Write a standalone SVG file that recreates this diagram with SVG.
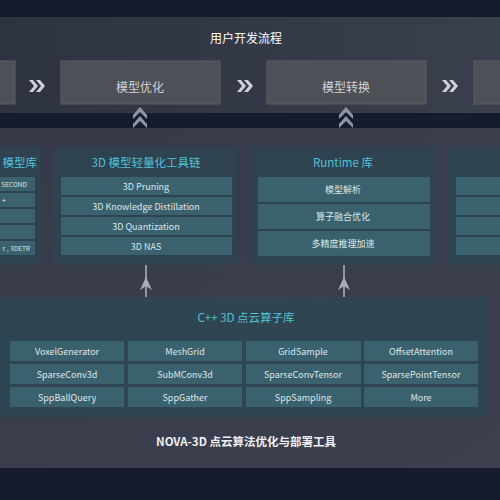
<svg xmlns="http://www.w3.org/2000/svg" width="500" height="500" viewBox="0 0 500 500">
<defs>
<linearGradient id="topg" x1="0" y1="0" x2="1" y2="0">
<stop offset="0" stop-color="#2e3342"/><stop offset="1" stop-color="#3a3f4e"/>
</linearGradient>
<linearGradient id="midg" x1="0" y1="0" x2="1" y2="1">
<stop offset="0" stop-color="#363a48"/><stop offset="1" stop-color="#3d414f"/>
</linearGradient>
<g id="chevR"><path d="M-8,-6 L-4,-6 L1,0 L-4,6 L-8,6 L-3,0 Z M-1,-6 L3,-6 L8,0 L3,6 L-1,6 L4,0 Z"/></g>
<g id="chevU"><path d="M-7,-2 L0,-10 L7,-2 L7,2 L0,-5 L-7,2 Z M-7,7 L0,-1 L7,7 L7,11 L0,4 L-7,11 Z"/></g>
<g id="arrU"><path d="M0,0 L0,33" fill="none"/><path d="M-6,25 L0,12 L6,25 L0,21 Z" stroke="none"/></g>
</defs>
<style>
.t{font-family:"Noto Sans CJK SC","Noto Sans",sans-serif;text-anchor:middle;dominant-baseline:central}
.e{text-anchor:end}
.proc{fill:#4e5057;stroke:#5c5e64;stroke-width:1}
.ptxt{fill:#d2d2d4;font-size:12px}
.card{fill:#2f4250}
.item{fill:#39626e}
.itxt{fill:#dfe6e8;font-size:9px}
.ctitle{fill:#4fc3d6;font-size:11.5px}
.chevR{fill:#cfd0d6}
.chevU{fill:#9196a6}
.arr{stroke:#a8adb8;stroke-width:1.6;fill:#a8adb8}
</style>
<rect x="0" y="0" width="500" height="500" fill="#161b2d"/>
<rect x="0" y="17" width="500" height="96" fill="url(#topg)"/>
<rect x="0" y="128" width="500" height="340" fill="url(#midg)"/>
<text class="t" x="246" y="37" fill="#ffffff" font-size="12">用户开发流程</text>
<g id="proc0"><rect class="proc" x="-10" y="61" width="25" height="43"/></g>
<g id="proc1"><rect class="proc" x="61" y="61" width="159" height="43"/><text class="t ptxt" x="140" y="86">模型优化</text></g>
<g id="proc2"><rect class="proc" x="267" y="61" width="159" height="43"/><text class="t ptxt" x="346" y="86">模型转换</text></g>
<g id="proc3"><rect class="proc" x="474" y="61" width="40" height="43"/></g>
<g id="connectors">
<use href="#chevR" class="chevR" x="37" y="86"/>
<use href="#chevR" class="chevR" x="245" y="86"/>
<use href="#chevR" class="chevR" x="450" y="86"/>
<use href="#chevU" class="chevU" x="140" y="117"/>
<use href="#chevU" class="chevU" x="346" y="117"/>
<use href="#arrU" class="arr" x="146" y="265"/>
<use href="#arrU" class="arr" x="344" y="265"/>
</g>
<g id="card1">
<rect class="card" x="-10" y="147" width="51" height="118"/>
<text class="t ctitle e" x="37" y="162">模型库</text>
<rect class="item" x="-10" y="177" width="45" height="14"/>
<rect class="item" x="-10" y="193" width="45" height="14"/>
<rect class="item" x="-10" y="209" width="45" height="14"/>
<rect class="item" x="-10" y="225" width="45" height="14"/>
<rect class="item" x="-10" y="241" width="45" height="14"/>
<text class="t e" x="27" y="184" fill="#dfe6e8" font-size="6.5">SECOND</text>
<text class="t e" x="6" y="200" fill="#dfe6e8" font-size="7">+</text>
<text class="t e" x="30" y="248" fill="#dfe6e8" font-size="6.5">r , 3DETR</text>
</g>
<g id="card2">
<rect class="card" x="54" y="147" width="184" height="118"/>
<text class="t ctitle" x="146" y="162">3D 模型轻量化工具链</text>
<rect class="item" x="61" y="177" width="171" height="18"/><text class="t itxt" x="146" y="186">3D Pruning</text>
<rect class="item" x="61" y="197" width="171" height="18"/><text class="t itxt" x="146" y="206">3D Knowledge Distillation</text>
<rect class="item" x="61" y="217" width="171" height="18"/><text class="t itxt" x="146" y="226">3D Quantization</text>
<rect class="item" x="61" y="237" width="171" height="18"/><text class="t itxt" x="146" y="246">3D NAS</text>
</g>
<g id="card3">
<rect class="card" x="252" y="147" width="183" height="118"/>
<text class="t ctitle" x="343" y="162">Runtime 库</text>
<rect class="item" x="258" y="177" width="172" height="25"/><text class="t itxt" x="343" y="189.5">模型解析</text>
<rect class="item" x="258" y="204" width="172" height="25"/><text class="t itxt" x="343" y="216.5">算子融合优化</text>
<rect class="item" x="258" y="231" width="172" height="25"/><text class="t itxt" x="343" y="243.5">多精度推理加速</text>
</g>
<g id="card4">
<rect class="card" x="448" y="147" width="70" height="118"/>
<rect class="item" x="456" y="177" width="60" height="18"/>
<rect class="item" x="456" y="197" width="60" height="18"/>
<rect class="item" x="456" y="217" width="60" height="18"/>
<rect class="item" x="456" y="237" width="60" height="18"/>
</g>
<g id="ops">
<rect x="-10" y="297" width="497" height="120" fill="#2f4552"/>
<text class="t ctitle" x="246" y="317">C++ 3D 点云算子库</text>
<rect class="item" x="10" y="341" width="114" height="20"/><text class="t itxt" x="67" y="351">VoxelGenerator</text>
<rect class="item" x="128" y="341" width="114" height="20"/><text class="t itxt" x="185" y="351">MeshGrid</text>
<rect class="item" x="246" y="341" width="115" height="20"/><text class="t itxt" x="303" y="351">GridSample</text>
<rect class="item" x="364" y="341" width="114" height="20"/><text class="t itxt" x="421" y="351">OffsetAttention</text>
<rect class="item" x="10" y="364" width="114" height="20"/><text class="t itxt" x="67" y="374">SparseConv3d</text>
<rect class="item" x="128" y="364" width="114" height="20"/><text class="t itxt" x="185" y="374">SubMConv3d</text>
<rect class="item" x="246" y="364" width="115" height="20"/><text class="t itxt" x="303" y="374">SparseConvTensor</text>
<rect class="item" x="364" y="364" width="114" height="20"/><text class="t itxt" x="421" y="374">SparsePointTensor</text>
<rect class="item" x="10" y="387" width="114" height="20"/><text class="t itxt" x="67" y="397">SppBallQuery</text>
<rect class="item" x="128" y="387" width="114" height="20"/><text class="t itxt" x="185" y="397">SppGather</text>
<rect class="item" x="246" y="387" width="115" height="20"/><text class="t itxt" x="303" y="397">SppSampling</text>
<rect class="item" x="364" y="387" width="114" height="20"/><text class="t itxt" x="421" y="397">More</text>
</g>
<text class="t" x="246" y="441" fill="#f0f0f2" font-size="11.5" font-weight="bold">NOVA-3D 点云算法优化与部署工具</text>
</svg>
